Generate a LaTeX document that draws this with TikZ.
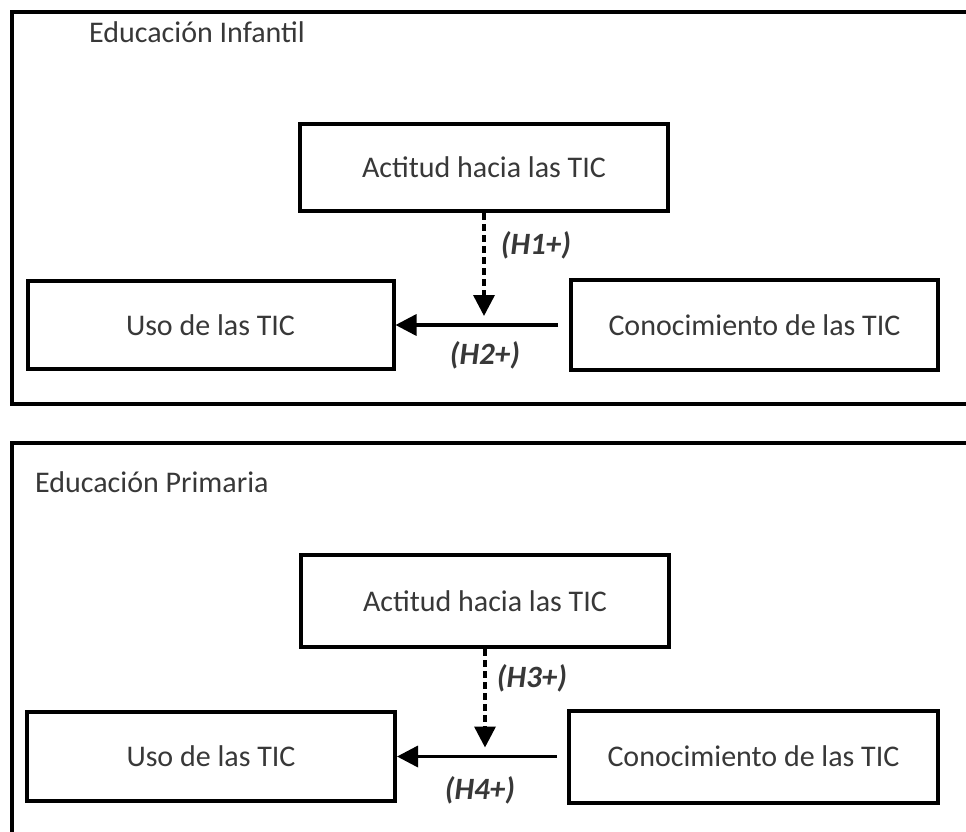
\documentclass[tikz,border=0pt]{standalone}
\usepackage{fontspec}
\setmainfont{Carlito}
\usetikzlibrary{arrows.meta}
\definecolor{txt}{rgb}{0.22,0.22,0.22}
\tikzset{
  frame/.style={line width=4pt, black},
  box/.style={draw=black, line width=4pt, rectangle, inner sep=0pt, text=txt,
    font=\fontsize{30}{36}\selectfont},
  title/.style={text=txt, inner sep=0pt, font=\fontsize{30}{36}\selectfont},
  hyp/.style={text=txt, inner sep=0pt, font=\fontsize{31}{36}\selectfont\bfseries\itshape},
  arr/.style={line width=3.5pt, -{Triangle[length=21pt,width=21pt]}},
  darr/.style={line width=3.5pt, dash pattern=on 7pt off 4pt, -{Triangle[length=21pt,width=21pt]}}
}
\begin{document}
\begin{tikzpicture}[x=1pt,y=-1pt]
\useasboundingbox (0,0) rectangle (966,832);
\fill[white] (0,0) rectangle (966,832);
% frames
\draw[frame] (975,12) -- (12,12) -- (12,404) -- (975,404);
\draw[frame] (975,443) -- (12,443) -- (12,845);
% titles
\node[title, anchor=base west] (t1) at (89,43) {Educación Infantil};
\node[title, anchor=base west] (t2) at (35,492) {Educación Primaria};
% top panel
\node[box, minimum width=368pt, minimum height=87pt] (a1) at (484,167.5) {Actitud hacia las TIC};
\node[box, minimum width=366pt, minimum height=88pt] (u1) at (210.5,325) {Uso de las TIC};
\node[box, minimum width=367pt, minimum height=90pt] (c1) at (754.5,325) {Conocimiento de las TIC};
\coordinate (m1) at (a1.south |- u1.east);
\draw[arr, shorten <=11pt] (c1.west) -- (u1.east);
\draw[darr, shorten >=9pt] (a1.south) -- (m1);
\node[hyp] (h1) at (536,245) {(H1+)};
\node[hyp] (h2) at (485,355) {(H2+)};
% bottom panel
\node[box, minimum width=368pt, minimum height=92pt] (a2) at (485,601) {Actitud hacia las TIC};
\node[box, minimum width=368pt, minimum height=89pt] (u2) at (211,756.5) {Uso de las TIC};
\node[box, minimum width=369pt, minimum height=92pt] (c2) at (753.5,756.5) {Conocimiento de las TIC};
\coordinate (m2) at (a2.south |- u2.east);
\draw[arr, shorten <=10pt] (c2.west) -- (u2.east);
\draw[darr, shorten >=9pt] (a2.south) -- (m2);
\node[hyp] (h3) at (532,678) {(H3+)};
\node[hyp] (h4) at (480,790) {(H4+)};
\end{tikzpicture}
\end{document}
